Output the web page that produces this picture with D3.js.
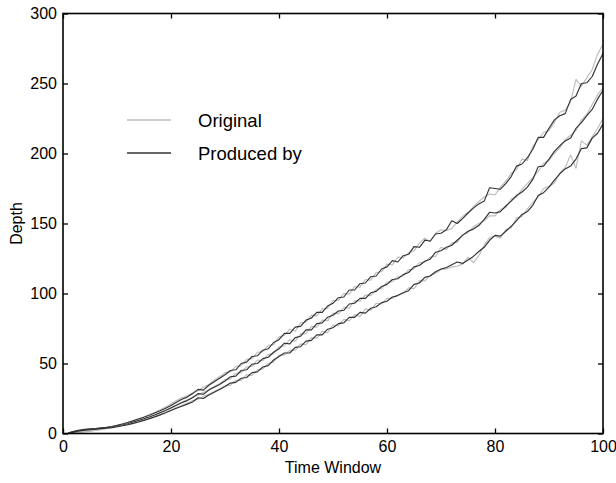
<!DOCTYPE html>
<html>
<head>
<meta charset="utf-8">
<script src="https://cdn.jsdelivr.net/npm/d3@7"></script>
<style>
  body { margin: 0; background: #fff; }
  svg { display: block; font-family: "Liberation Sans", Arial, Helvetica, sans-serif; }
</style>
</head>
<body>
<svg id="chart" width="616" height="483"></svg>
<script>
// time window 1..100
const xs = d3.range(1, 101);

const topOrig = [0.2,0.6,1,1.5,2,2.6,3.2,4,4.8,5.8, 6.8,8,9.3,10.6,12,13.5,15.2,17,19,21,
  23.5,25.5,27,29,30.5,33,35,38,40.5,43.5, 44,48,48.5,53,53.5,58,58.5,63,63.5,69,
  70,74.5,73,79,79.5,84.5,84,89,89.5,95, 95,100,99.5,105,104.5,110,109.5,115,115.5,121,
  120.5,126,125.5,129,130.5,136,139.5,137,143,145.5, 145,146.5,151,155,158,162,165.5,169,171,170.5,
  176,180,186,188.5,196,195,205,210,215,216.5, 222,229.5,231,237,253,248,254,260,271,278];
const topProd = [0.5,1.5,2.5,3,3.3,3.6,4,4.4,5,5.8, 6.7,7.8,9,10.3,11.6,13,14.6,16.2,18,20,
  22.3,24.5,26,28.5,31.5,31,34.5,37,39.5,42, 45,45.5,50,51,55,55.5,59.5,60.5,65,67,
  71.5,71.5,76,76.5,81,82.5,86.5,86.5,91,93, 97,97.5,102.5,102.5,107,107.5,112,112.5,117.5,119,
  123.5,122.5,127,128,133.5,133,138,137.5,142.5,143, 145.5,152,150,153.5,157.5,161,164,166,175.5,175,
  174.5,178.5,183.5,191,192.5,197,203,211.5,211.5,218, 224,227,228.5,238.5,241,250,250.5,255,264,271.5];

const midOrig = [0.2,0.5,0.9,1.4,1.9,2.4,3,3.7,4.4,5.2, 6.1,7.1,8.2,9.4,10.7,12.1,13.6,15.2,16.9,18.7,
  20.5,22.5,24,26,27.5,29.5,31.5,33.5,35.5,38.5, 39,43,43.5,47.5,48,52.5,52,56.5,57,62,
  62.5,67,66,71,71.5,76.5,76,81,80.5,86, 85.5,90,89.5,95,94.5,99,98.5,103,103.5,108,
  108.5,112,112.5,117,117.5,122,122.5,126,126.5,133, 131.5,136,136.5,142,143.5,147.5,150,152,155.5,155.5,
  160,161.5,167.5,169,174.5,178.5,183,187,193,195, 200,204,210,213,216.5,224,228,235,242,247];
const midProd = [0.4,1.2,2,2.6,3,3.3,3.7,4.1,4.6,5.3, 6.1,7,8.1,9.2,10.5,11.8,13.2,14.8,16.4,18.2,
  20.2,22,23.5,25.5,28.5,28,31,33,35,37.5, 40.5,41,45,45.5,49.5,50,53.5,54.5,58,60.5,
  64.5,64,68.5,69.5,74,74,78.5,79,83,84.5, 87.5,88,92.5,93,96.5,96.5,100.5,101.5,105,106.5,
  110,110.5,113.5,115,119,120,123,124.5,129.5,130.5, 133,134.5,138,141.5,144.5,146,148.5,153,158,157.5,
  158.5,162.5,166,170,172.5,176,181.5,190.5,191,196, 201.5,205.5,209,211,218,222,227,231.5,239,245];

const lowOrig = [0.1,0.4,0.8,1.2,1.7,2.2,2.8,3.4,4,4.7, 5.5,6.4,7.4,8.4,9.6,10.8,12.2,13.6,15.2,16.8,
  18.6,20.2,21.5,23.5,24.5,26.5,28,30,32,34, 34.5,38,38,42,41.5,45.5,46,50,51,56,
  56,59.5,59.5,64,63.5,68.5,68,73,72,77.5, 77,81.5,80.5,85,83.5,89,88,93,92.5,96.5,
  96.5,99,100,104,103.5,109,109,113,114.5,117, 117.5,119,119.5,121,126,122,127,134.5,140,141,
  139.5,145.5,147,154,155,160.5,165,169,175,176.5, 179,186,190,199,189.5,209,206,212,218,225];
const lowProd = [0.3,1,1.8,2.4,2.8,3.1,3.4,3.8,4.2,4.8, 5.5,6.3,7.2,8.2,9.4,10.6,11.9,13.3,14.8,16.4,
  18,19.5,21,22.5,25.5,25,27.5,29.5,31.5,33.5, 36,36.5,39.5,40,43.5,44,47.5,48.5,52.5,55,
  57.5,57.5,61.5,62,66,66.5,70.5,70.5,74.5,75.5, 78.5,79,83,83,86.5,86,89.5,90.5,93.5,94.5,
  97.5,98.5,100.5,102,106.5,107.5,111.5,112.5,115.5,117.5, 118.5,120.5,122.5,121.5,124,126.5,130,133,138,141.5,
  141,144.5,148,152,156.5,158.5,163,170,172,176, 181,185.5,189,191,196,203.5,204,211,214.5,221];

const xTicks = [0, 20, 40, 60, 80, 100];
const yTicks = [0, 50, 100, 150, 200, 250, 300];
const legendLabels = ["Original", "Produced by"];
const seriesColors = ["#bdbdbd", "#333333"];

const svg = d3.select("#chart");
const m = { left: 63, right: 13, top: 13.5, bottom: 49.5 };
const W = 616, H = 483;
const x = d3.scaleLinear().domain([0, 100]).range([m.left, W - m.right]);
const y = d3.scaleLinear().domain([0, 300]).range([H - m.bottom, m.top]);

const line = d3.line().x((d, i) => x(xs[i])).y(d => y(d));

const pairs = [[topOrig, topProd], [midOrig, midProd], [lowOrig, lowProd]];
pairs.forEach(p => {
  p.forEach((s, k) => {
    svg.append("path").datum(s)
      .attr("fill", "none")
      .attr("stroke", seriesColors[k])
      .attr("stroke-width", 1.15)
      .attr("stroke-linejoin", "round")
      .attr("d", line);
  });
});

// axes, ticks pointing inward
const fs = "16px";
svg.append("g").attr("transform", `translate(0,${y(0)})`)
  .call(d3.axisBottom(x).tickValues(xTicks).tickSizeInner(-5).tickSizeOuter(0).tickPadding(7));
svg.append("g").attr("transform", `translate(${x(0)},0)`)
  .call(d3.axisLeft(y).tickValues(yTicks).tickSizeInner(-5).tickSizeOuter(0).tickPadding(6));
svg.append("g").attr("transform", `translate(0,${y(300)})`)
  .call(d3.axisTop(x).tickValues(xTicks).tickSizeInner(-5).tickSizeOuter(0).tickFormat(""));
svg.append("g").attr("transform", `translate(${x(100)},0)`)
  .call(d3.axisRight(y).tickValues(yTicks).tickSizeInner(-5).tickSizeOuter(0).tickFormat(""));

svg.selectAll(".domain").remove();
svg.selectAll(".tick line").attr("stroke", "#000").attr("stroke-width", 1.3);
svg.selectAll(".tick text").attr("fill", "#000").style("font-size", fs)
  .style("font-family", '"Liberation Sans", Arial, Helvetica, sans-serif');

svg.append("rect")
  .attr("x", x(0)).attr("y", y(300))
  .attr("width", x(100) - x(0)).attr("height", y(0) - y(300))
  .attr("fill", "none").attr("stroke", "#000").attr("stroke-width", 1.6);

svg.append("text").attr("x", (x(0) + x(100)) / 2).attr("y", 473)
  .attr("text-anchor", "middle").style("font-size", fs).text("Time Window");
svg.append("text").attr("transform", `translate(22,${(y(0) + y(300)) / 2}) rotate(-90)`)
  .attr("text-anchor", "middle").style("font-size", fs).text("Depth");

// legend
const lg = svg.append("g");
legendLabels.forEach((t, i) => {
  const ly = 120 + i * 33;
  lg.append("line").attr("x1", 127).attr("x2", 171).attr("y1", ly).attr("y2", ly)
    .attr("stroke", seriesColors[i]).attr("stroke-width", 1.6);
  lg.append("text").attr("x", 198).attr("y", ly).attr("dy", "0.36em")
    .style("font-size", "18.5px").text(t);
});
</script>
</body>
</html>
